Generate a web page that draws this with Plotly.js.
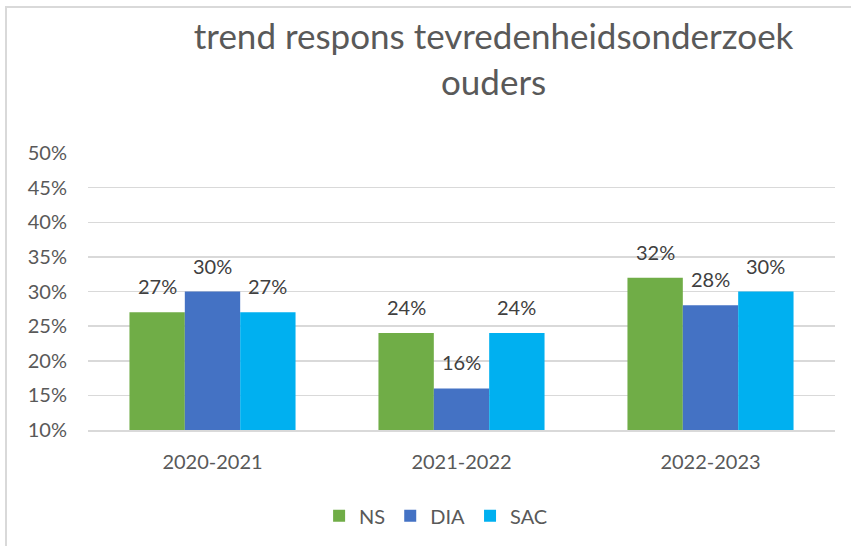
<!DOCTYPE html>
<html>
<head>
<meta charset="utf-8">
<script src="https://cdn.plot.ly/plotly-3.0.1.min.js"></script>
<style>
  html, body { margin: 0; padding: 0; background: #fff; }
  #wrap { position: relative; width: 851px; height: 546px; }
  #chart { width: 851px; height: 546px; }
  #frame { position: absolute; left: 5px; top: 6px; width: 900px; height: 600px;
           border-left: 2px solid #d9d9d9; border-top: 2px solid #d9d9d9; pointer-events: none; }
</style>
</head>
<body>
<div id="wrap">
  <div id="chart"></div>
  <div id="frame"></div>
</div>
<script>
const categories = ["2020-2021", "2021-2022", "2022-2023"];
const ns  = [0.27, 0.24, 0.32];
const dia = [0.30, 0.16, 0.28];
const sac = [0.27, 0.24, 0.30];
const seriesNames = ["NS", "DIA", "SAC"];
const colors = ["#70AD47", "#4472C4", "#00B0F0"];
const yTicks = [0.10, 0.15, 0.20, 0.25, 0.30, 0.35, 0.40, 0.45, 0.50];

const FONT = "Lato, 'Open Sans', sans-serif";
const BARGAP = 0.333;
const allSeries = [ns, dia, sac];

const data = allSeries.map((vals, i) => ({
  type: "bar",
  name: seriesNames[i],
  x: categories,
  y: vals,
  marker: { color: colors[i] },
  hoverinfo: "x+y"
}));

// value labels placed above each bar via the axis scales
const barW = (1 - BARGAP) / allSeries.length;
const annotations = [];
allSeries.forEach((vals, i) => {
  vals.forEach((v, c) => {
    annotations.push({
      xref: "x", yref: "y",
      x: c + (i - (allSeries.length - 1) / 2) * barW,
      y: v,
      text: Math.round(v * 100) + "%",
      showarrow: false,
      yanchor: "bottom", xanchor: "center",
      yshift: 12,
      font: { family: FONT, size: 20, color: "#404040" }
    });
  });
});

const layout = {
  width: 851, height: 546,
  margin: { l: 88, r: 16, t: 153, b: 115 },
  paper_bgcolor: "#fff", plot_bgcolor: "#fff",
  barmode: "group",
  bargap: BARGAP, bargroupgap: 0,
  title: {
    text: "trend respons tevredenheidsonderzoek<br>ouders",
    font: { family: FONT, size: 35, color: "#595959" },
    x: 0.543, xanchor: "center", xref: "paper",
    y: 0.91, yanchor: "top", yref: "container"
  },
  xaxis: {
    type: "category",
    tickfont: { family: FONT, size: 20, color: "#595959" },
    ticks: "outside", ticklen: 13, tickcolor: "rgba(0,0,0,0)",
    showline: true, linecolor: "#d9d9d9", linewidth: 1.5,
    showgrid: false, zeroline: false
  },
  yaxis: {
    range: [0.10, 0.50],
    tickvals: yTicks,
    tickformat: ".0%",
    tickfont: { family: FONT, size: 20, color: "#595959" },
    ticklabelstandoff: 20,
    showgrid: true, gridcolor: "#d9d9d9", gridwidth: 1.5,
    zeroline: false, showline: false
  },
  legend: {
    orientation: "h",
    x: 0.466, xanchor: "center",
    y: -0.305, yanchor: "middle",
    font: { family: FONT, size: 20, color: "#595959" },
    itemwidth: 30, traceorder: "normal"
  },
  annotations: annotations,
  showlegend: true
};

Plotly.newPlot("chart", data, layout, { displayModeBar: false, staticPlot: true });
</script>
</body>
</html>
